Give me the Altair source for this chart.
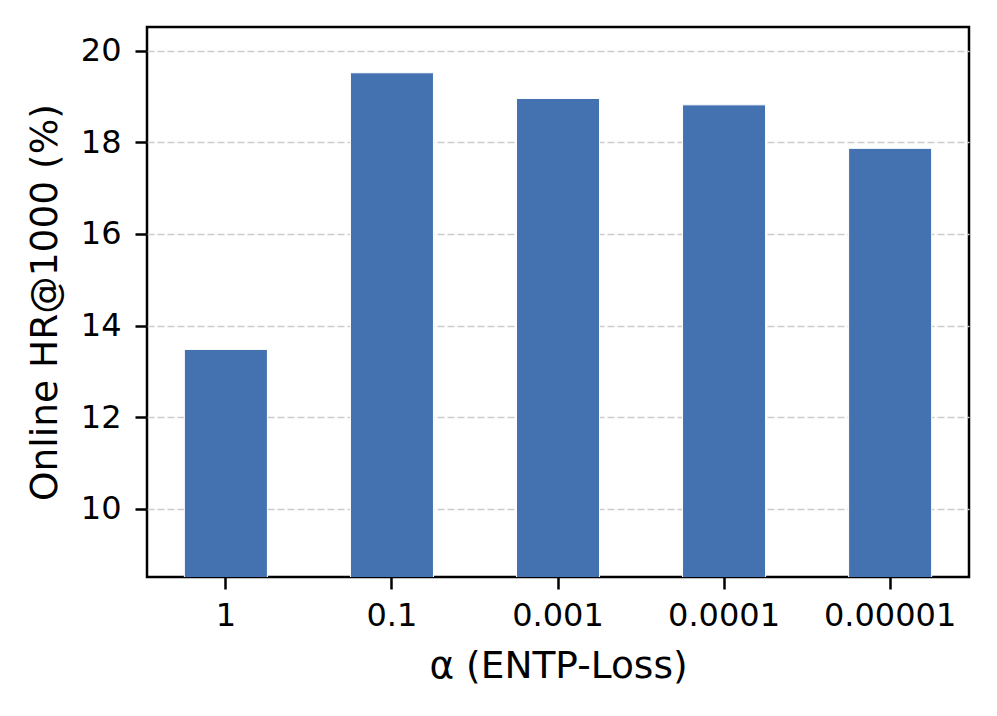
import altair as alt
import pandas as pd

categories = ["1", "0.1", "0.001", "0.0001", "0.00001"]
values = [13.48, 19.52, 18.96, 18.82, 17.87]
y_ticks = [10, 12, 14, 16, 18, 20]
y_domain = [8.51, 20.52]

df = pd.DataFrame({"alpha": categories, "hr": values})

FONT = "DejaVu Sans"

bars = alt.Chart(df).mark_bar(
    color="#4472b0", stroke="white", strokeWidth=1, clip=True
).encode(
    x=alt.X(
        "alpha:N",
        sort=categories,
        scale=alt.Scale(paddingInner=0.5, paddingOuter=0.225),
        axis=alt.Axis(
            title="α (ENTP-Loss)",
            labelAngle=0,
            labelFontSize=32,
            titleFontSize=37.5,
            titleFontWeight="normal",
            labelFont=FONT,
            titleFont=FONT,
            labelColor="black",
            titleColor="black",
            tickColor="black",
            tickSize=12,
            tickWidth=2.5,
            domain=False,
            labelPadding=11,
            titlePadding=16,
            grid=False,
        ),
    ),
    y=alt.Y(
        "hr:Q",
        scale=alt.Scale(domain=y_domain, zero=False, nice=False),
        axis=alt.Axis(
            title="Online HR@1000 (%)",
            values=y_ticks,
            labelFontSize=32,
            titleFontSize=37.5,
            titleFontWeight="normal",
            labelFont=FONT,
            titleFont=FONT,
            labelColor="black",
            titleColor="black",
            tickColor="black",
            tickSize=12,
            tickWidth=2.5,
            domain=False,
            labelPadding=14,
            titlePadding=16,
            grid=True,
            gridColor="#cccccc",
            gridDash=[7, 3],
            gridWidth=1.5,
        ),
    ),
)

chart = bars.properties(
    width=822,
    height=550,
    autosize=alt.AutoSizeParams(type="none"),
    padding={"left": 139, "top": 19, "right": 20, "bottom": 130},
    background="white",
).configure_view(
    stroke="black", strokeWidth=2.5
)

chart.save("out.html", embed_options={"renderer": "svg", "actions": False})
